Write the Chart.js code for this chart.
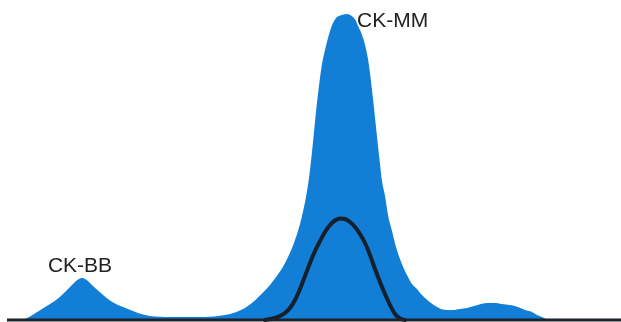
<!DOCTYPE html>
<html>
<head>
<meta charset="utf-8">
<script src="https://cdn.jsdelivr.net/npm/chart.js@4"></script>
<style>
html,body{margin:0;padding:0;background:#fff;}
#wrap{width:621px;height:322px;position:relative;}
</style>
</head>
<body>
<div id="wrap"><canvas id="c"></canvas></div>
<script>
// Total CK electrophoresis trace (blue filled area)
const totalX = [18,22,26,30,34,38,42,46,50,54,58,62,66,70,74,78,82,86,90,94,98,102,106,110,114,118,123,128,133,138,143,150,160,170,180,190,200,210,218,225,230,235,240,245,250,255,260,265,270,275,280,284,288,292,295,298,300,302,304,306,308,310,312,314,316,318,320,322,325,328,331,334,337,342,347,350,353,356,358,360,362,364,366,368,370,372,374,376,378,380,382,385,388,392,396,400,404,408,412,417,421,425,429,433,437,441,447,453,460,467,474,481,488,495,502,510,518,525,532,537,542,546];
const totalH = [0,0,1.5,3.5,6,8.5,11,13.5,16,18.5,21.5,25,29,33,37,40.5,42,40.5,37,33,29.5,26,22.5,19.5,17,15,13,11,9,7,5.5,4,3.2,3,3,3,3,3.2,4,5,6,7.5,9.5,12,15.5,19.5,24.5,29.5,35,41.5,48.5,55,63,72,80,89,96,104,113,123,135,150,168,188,208,226,242,256,270,282,292,299,303,305,306,305,303,299,294,290,285,279,271,261,247,230,212,193,174,156,139,124,105,89,73,61,51,43,36,31,26,22,18.5,15.5,13,11,10,10,11,12,14,16,17,17,16,15,13,10,8,5,3,1,0];
// CK-MM component trace (dark line)
const mmX = [265,270,275,280,285,290,295,300,305,310,315,320,325,330,335,340,345,350,355,360,365,370,375,380,385,390,395,400,405];
const mmH = [0,1,2,4,7,12,20,31,44,57,69,79,88,95,99.5,101.5,101,98,93,86,77,65,51,38,26,15,6,1.5,0];
// Baseline
const baseX = [7,621];
const baseH = [0,0];
// Peak labels
const peakLabels = ["CK-BB","CK-MM"];
const peakAtX = [82,342];

const pts = (xs, ys) => xs.map((x,i)=>({x:x,y:ys[i]}));

const labelPlugin = {
  id:'peakLabels',
  afterDatasetsDraw(chart){
    const {ctx, scales:{x,y}} = chart;
    ctx.save();
    ctx.font = '21px "Liberation Sans", Arial, sans-serif';
    ctx.fillStyle = '#222222';
    ctx.textBaseline = 'alphabetic';
    const i0 = totalX.indexOf(peakAtX[0]);
    ctx.textAlign = 'center';
    ctx.fillText(peakLabels[0], x.getPixelForValue(peakAtX[0]) - 2, y.getPixelForValue(totalH[i0]) - 6);
    const i1 = totalX.indexOf(peakAtX[1]);
    ctx.textAlign = 'left';
    ctx.fillText(peakLabels[1], x.getPixelForValue(peakAtX[1]) + 15, y.getPixelForValue(totalH[i1]) + 12);
    ctx.restore();
  }
};

new Chart(document.getElementById('c'), {
  type:'line',
  data:{
    datasets:[
      {data:pts(baseX,baseH), borderColor:'#1b222c', borderWidth:3, pointRadius:0, fill:false, order:1},
      {data:pts(mmX,mmH), borderColor:'#14202d', borderWidth:4, borderCapStyle:'round', borderJoinStyle:'round', pointRadius:0, fill:false, cubicInterpolationMode:'monotone', order:2},
      {data:pts(totalX,totalH), borderColor:'rgba(0,0,0,0)', backgroundColor:'#137ed5', borderWidth:0, pointRadius:0, fill:'origin', cubicInterpolationMode:'monotone', order:3}
    ]
  },
  options:{
    responsive:true,
    maintainAspectRatio:false,
    animation:false,
    layout:{padding:0},
    plugins:{legend:{display:false}, tooltip:{enabled:false}},
    scales:{
      x:{type:'linear', min:0, max:621, display:false},
      y:{type:'linear', min:-2, max:320, display:false}
    }
  },
  plugins:[labelPlugin]
});
</script>
</body>
</html>
